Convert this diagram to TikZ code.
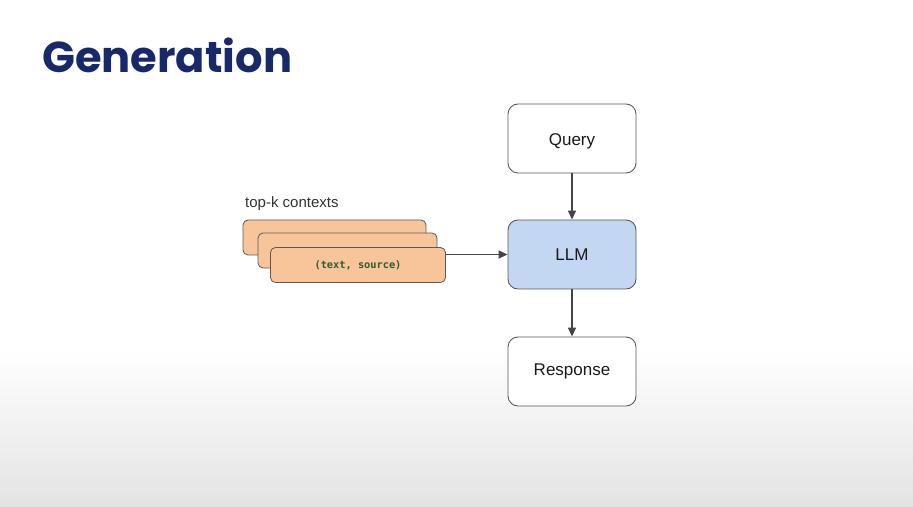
\documentclass[tikz,border=0pt]{standalone}
\usepackage{fontspec}
\setmainfont{Liberation Sans}
\newfontfamily\titlefont{Poppins}
\newfontfamily\codefont{DejaVu Sans Mono}
\usetikzlibrary{arrows.meta,positioning}
\definecolor{navy}{HTML}{17296B}
\definecolor{llmblue}{HTML}{C3D6F2}
\definecolor{cardorange}{HTML}{F8C59B}
\definecolor{edgegray}{HTML}{5A5A5A}
\definecolor{arrowgray}{HTML}{454545}
\definecolor{codegreen}{HTML}{2F5A36}
\definecolor{bggray}{HTML}{E3E3E3}
\tikzset{
  flowbox/.style={draw=edgegray, line width=0.9bp, rounded corners=10bp, minimum width=128bp, minimum height=69bp, inner sep=0pt, font=\fontsize{17bp}{20bp}\selectfont, text=black!90},
  cardbox/.style={draw=edgegray, line width=0.8bp, rounded corners=5bp, fill=cardorange, inner sep=0pt},
  flowarrow/.style={draw=arrowgray, line width=1.6bp, -{Triangle[length=9bp,width=8bp]}},
}
\begin{document}
\begin{tikzpicture}[x=1bp,y=-1bp]
\useasboundingbox (0,0) rectangle (913,507);
\fill[white] (0,0) rectangle (913,350);
\shade[top color=white, bottom color=bggray] (0,350) rectangle (913,507);
\node[anchor=base west, inner sep=0pt, text=navy, font=\titlefont\bfseries\fontsize{43.2bp}{48bp}\selectfont] (title) at (42,73) {Generation};
\node[flowbox, fill=white, text depth=0pt] (query) at (572,138.5) {\raisebox{-2bp}{Query}};
\node[flowbox, fill=llmblue] (llm) at (572,254.5) {LLM};
\node[flowbox, fill=white] (resp) at (572,371.5) {\raisebox{-2bp}{Response}};
\node[anchor=base west, inner sep=0pt, font=\fontsize{15bp}{18bp}\selectfont, text=black!80] (lbl) at (245,208) {top-k contexts};
\node[cardbox, minimum width=183bp, minimum height=35bp] (c1) at (334.5,237.5) {};
\node[cardbox, minimum width=179bp, minimum height=35bp] (c2) at (347.5,250.5) {};
\node[cardbox, minimum width=175bp, minimum height=35bp, font=\codefont\bfseries\fontsize{10.3bp}{12bp}\selectfont, text=codegreen] (c3) at (358,265) {(text, source)};
\draw[flowarrow] (query) -- (llm);
\draw[flowarrow] (llm) -- (resp);
\draw[flowarrow] (c3.east |- llm.west) -- (llm.west);
\end{tikzpicture}
\end{document}
